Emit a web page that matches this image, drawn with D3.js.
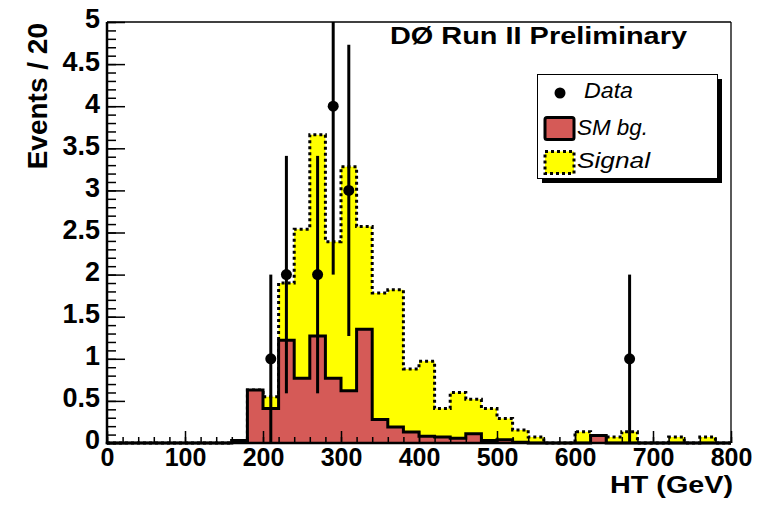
<!DOCTYPE html>
<html>
<head>
<meta charset="utf-8">
<script src="https://cdn.jsdelivr.net/npm/d3@7"></script>
<style>
  html, body { margin: 0; padding: 0; background: #fff; }
  svg { display: block; font-family: "Liberation Sans", Arial, Helvetica, sans-serif; }
</style>
</head>
<body>
<svg id="chart" width="770" height="505"></svg>
<script>
// ---------- data ----------
const binWidth = 20;
const binStarts = [0,20,40,60,80,100,120,140,160,180,200,220,240,260,280,300,320,340,360,380,
                   400,420,440,460,480,500,520,540,560,580,600,620,640,660,680,700,720,740,760,780];
// SM background (events / 20 GeV)
const smBg = [0,0,0,0,0,0,0,0,0.03,0.63,0.41,1.22,0.77,1.27,0.77,0.62,1.35,0.28,0.19,0.13,
              0.08,0.07,0.055,0.11,0.03,0.04,0.01,0,0,0,0,0.09,0,0,0,0,0,0,0,0];
// SM background + signal (stacked total)
const signalTotal = [0,0,0,0,0,0,0,0,0.03,0.63,0.55,1.90,2.54,3.66,2.39,3.28,2.57,1.78,1.82,0.88,
                     0.97,0.41,0.60,0.52,0.41,0.29,0.155,0.07,0,0,0.135,0.09,0.07,0.135,0,0,0.07,0,0.07,0];
// Data points
const dataHT = [210,230,270,290,310,670];
const dataN = [1,2,2,4,3,1];
const dataErr = [1,1.41,1.41,2,1.73,1];

const xTicks = [0,100,200,300,400,500,600,700,800];
const xTickLabels = ["0","100","200","300","400","500","600","700","800"];
const yTicks = [0,0.5,1,1.5,2,2.5,3,3.5,4,4.5,5];
const yTickLabels = ["0","0.5","1","1.5","2","2.5","3","3.5","4","4.5","5"];
const legendLabels = ["Data","SM bg.","Signal"];

// ---------- drawing ----------
const svg = d3.select("#chart");
const x = d3.scaleLinear().domain([0, 800]).range([107, 731]);
const y = d3.scaleLinear().domain([0, 5]).range([443, 22]).clamp(true);

const redFill = "#d55a57";
const yellowFill = "#ffff00";

function stepPoints(vals) {
  const pts = binStarts.map((s, i) => ({ e: s, v: vals[i] }));
  pts.push({ e: binStarts[binStarts.length - 1] + binWidth, v: vals[vals.length - 1] });
  return pts;
}
const area = d3.area().curve(d3.curveStepAfter)
  .x(d => x(d.e)).y0(y(0)).y1(d => y(d.v));
const line = d3.line().curve(d3.curveStepAfter)
  .x(d => x(d.e)).y(d => y(d.v));

const sigPts = stepPoints(signalTotal);
const smPts = stepPoints(smBg);

// signal (stacked total)
svg.append("path").attr("d", area(sigPts)).attr("fill", yellowFill);
svg.append("path").attr("d", line(sigPts)).attr("fill", "none")
  .attr("stroke", "#000").attr("stroke-width", 3).attr("stroke-dasharray", "3,3");
// SM background
svg.append("path").attr("d", area(smPts)).attr("fill", redFill);
svg.append("path").attr("d", line(smPts)).attr("fill", "none")
  .attr("stroke", "#000").attr("stroke-width", 3).attr("stroke-linejoin", "miter");

// axes
const xMinor = d3.axisBottom(x).tickValues(d3.range(0, 801, 20)).tickSizeInner(-6).tickSizeOuter(0).tickFormat("");
svg.append("g").attr("transform", "translate(0,443)").call(xMinor)
  .call(g => g.select(".domain").remove())
  .call(g => g.selectAll("line").attr("stroke", "#000").attr("stroke-width", 1.5));
const xMajor = d3.axisBottom(x).tickValues(xTicks).tickSizeInner(-12).tickSizeOuter(0)
  .tickPadding(5).tickFormat((d, i) => xTickLabels[i]);
svg.append("g").attr("transform", "translate(0,443)").call(xMajor)
  .call(g => g.select(".domain").remove())
  .call(g => g.selectAll("line").attr("stroke", "#000").attr("stroke-width", 1.5))
  .call(g => g.selectAll("text").attr("fill", "#000").attr("font-size", 25).attr("font-weight", "bold")
    .attr("dy", "0.72em").attr("font-family", "Liberation Sans, Arial, sans-serif"));

const yMinor = d3.axisLeft(y).tickValues(d3.range(0, 50.5, 1).map(v => v / 10)).tickSizeInner(-9).tickSizeOuter(0).tickFormat("");
svg.append("g").attr("transform", "translate(107,0)").call(yMinor)
  .call(g => g.select(".domain").remove())
  .call(g => g.selectAll("line").attr("stroke", "#000").attr("stroke-width", 1.5));
const yMajor = d3.axisLeft(y).tickValues(yTicks).tickSizeInner(-18).tickSizeOuter(0)
  .tickPadding(7).tickFormat((d, i) => yTickLabels[i]);
svg.append("g").attr("transform", "translate(107,0)").call(yMajor)
  .call(g => g.select(".domain").remove())
  .call(g => g.selectAll("line").attr("stroke", "#000").attr("stroke-width", 1.5))
  .call(g => g.selectAll("text").attr("fill", "#000").attr("font-size", 27).attr("font-weight", "bold")
    .attr("dy", "0.22em").attr("font-family", "Liberation Sans, Arial, sans-serif"));

// frame
svg.append("line").attr("x1", x(0)).attr("x2", x(800)).attr("y1", y(5)).attr("y2", y(5))
  .attr("stroke", "#000").attr("stroke-width", 1.3);
svg.append("line").attr("x1", x(800)).attr("x2", x(800)).attr("y1", y(5)).attr("y2", y(0))
  .attr("stroke", "#000").attr("stroke-width", 1.3);
svg.append("line").attr("x1", x(0)).attr("x2", x(0)).attr("y1", y(5)).attr("y2", y(0) + 1.25)
  .attr("stroke", "#000").attr("stroke-width", 2.5);
svg.append("line").attr("x1", x(0) - 1.25).attr("x2", x(800)).attr("y1", y(0)).attr("y2", y(0))
  .attr("stroke", "#000").attr("stroke-width", 2.5);

// data error bars and markers
const dataG = svg.append("g");
dataHT.forEach((h, i) => {
  dataG.append("line").attr("x1", x(h)).attr("x2", x(h))
    .attr("y1", y(dataN[i] - dataErr[i])).attr("y2", y(dataN[i] + dataErr[i]))
    .attr("stroke", "#000").attr("stroke-width", 3);
  dataG.append("circle").attr("cx", x(h)).attr("cy", y(dataN[i])).attr("r", 5.5).attr("fill", "#000");
});

// title
svg.append("text").attr("x", 390).attr("y", 44).attr("font-size", 23).attr("font-weight", "bold")
  .attr("textLength", 297).attr("lengthAdjust", "spacingAndGlyphs").attr("fill", "#000")
  .text("DØ Run II Preliminary");

// axis titles
svg.append("text").attr("transform", "translate(47,23) rotate(-90)").attr("text-anchor", "end")
  .attr("font-size", 28).attr("font-weight", "bold").attr("fill", "#000")
  .text("Events / 20");
svg.append("text").attr("x", 733).attr("y", 493).attr("text-anchor", "end")
  .attr("font-size", 23).attr("font-weight", "bold").attr("fill", "#000")
  .attr("textLength", 123).attr("lengthAdjust", "spacingAndGlyphs")
  .text("HT (GeV)");

// legend
const lg = svg.append("g");
lg.append("rect").attr("x", 542).attr("y", 79).attr("width", 180).attr("height", 104).attr("fill", "#000");
lg.append("rect").attr("x", 537.5).attr("y", 74.5).attr("width", 180).attr("height", 104)
  .attr("fill", "#fff").attr("stroke", "#000").attr("stroke-width", 1);
lg.append("circle").attr("cx", 560).attr("cy", 93).attr("r", 5.5).attr("fill", "#000");
lg.append("rect").attr("x", 545).attr("y", 117.5).attr("width", 29).attr("height", 22).attr("rx", 2)
  .attr("fill", redFill).attr("stroke", "#000").attr("stroke-width", 3);
lg.append("rect").attr("x", 545).attr("y", 151.5).attr("width", 29).attr("height", 22)
  .attr("fill", yellowFill).attr("stroke", "#000").attr("stroke-width", 3).attr("stroke-dasharray", "3,3");
const legY = [98, 135, 168];
const legX = [584, 577, 577];
const legW = [49, 71, 73];
legendLabels.forEach((t, i) => {
  lg.append("text").attr("x", legX[i]).attr("y", legY[i]).attr("font-size", 22).attr("font-style", "italic")
    .attr("textLength", legW[i]).attr("lengthAdjust", "spacingAndGlyphs")
    .attr("fill", "#000").text(t);
});
</script>
</body>
</html>
